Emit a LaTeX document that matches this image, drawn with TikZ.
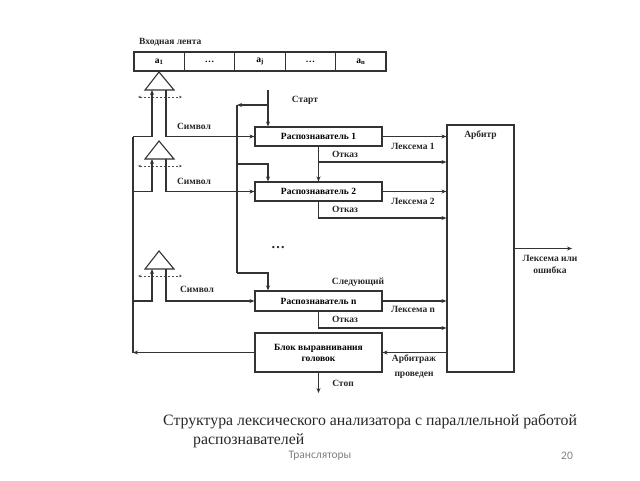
\documentclass[tikz,border=0pt]{standalone}
\usepackage{fontspec}
\setmainfont{Liberation Serif}
\newfontfamily\footfont{Carlito}
\usetikzlibrary{arrows.meta}
\begin{document}
\begin{tikzpicture}[x=1pt,y=-1pt,
  ln/.style={line width=1.1pt,draw=black!80},
  arr/.style={ln,-{Stealth[length=5pt,width=4pt]}},
  box/.style={ln,rectangle,inner sep=0pt,font=\fontsize{9.5}{11}\selectfont\bfseries,align=center},
  cell/.style={ln,rectangle,minimum width=50.4pt,minimum height=19pt,inner sep=0pt,font=\fontsize{9.5}{10}\selectfont\bfseries},
  lbl/.style={inner sep=0pt,font=\fontsize{9.5}{12}\selectfont\bfseries,align=center,text=black!85},
  dbl/.style={line width=0.6pt,draw=black!70,dash pattern=on 2pt off 2pt,{Stealth[length=3pt,width=2.5pt]}-{Stealth[length=3pt,width=2.5pt]}}
]
\useasboundingbox (0,0) rectangle (640,480);
% tape
\node[cell] (c1) at (159.2,61.5) {a\textsubscript{1}};
\node[cell] (c2) at (209.6,61.5) {\dots};
\node[cell] (c3) at (260,61.5) {a\textsubscript{j}};
\node[cell] (c4) at (310.4,61.5) {\dots};
\node[cell] (c5) at (360.8,61.5) {a\textsubscript{n}};
\node[lbl,anchor=west] (tl) at (139,42) {Входная лента};
% boxes
\node[box,minimum width=127pt,minimum height=19pt] (r1) at (318.5,136.5) {Распознаватель 1};
\node[box,minimum width=127pt,minimum height=19pt] (r2) at (318.5,191.5) {Распознаватель 2};
\node[box,minimum width=127pt,minimum height=20pt] (rn) at (318.5,301) {Распознаватель n};
\node[box,minimum width=127pt,minimum height=39pt] (blk) at (318.5,352.5) {Блок выравнивания\\головок};
\node[box,minimum width=67pt,minimum height=247pt] (arb) at (480.5,248.5) {};
\node[lbl] (arbt) at (480.5,135) {Арбитр};
% heads (triangles)
\foreach \i/\y in {1/72,2/141,3/251}{
  \draw[ln] (159,\y) -- (145,\y+18) -- (174,\y+18) -- cycle;
  \coordinate (tl\i) at (152,\y+18);
  \coordinate (tr\i) at (166,\y+18);
  \coordinate (dl\i) at (138,\y+25);
  \coordinate (dr\i) at (182,\y+25);
  \draw[dbl] (dl\i) -- (dr\i);
}
% symbol lines
\draw[arr] (tr1) |- (r1.west);
\draw[arr] (tr2) |- (r2.west);
\draw[arr] (tr3) |- (rn.west);
% head alignment lines
\coordinate (L0) at (133,136.5);
\coordinate (Lb) at (133,352.5);
\draw[ln] (L0) -- (Lb);
\draw[arr] (blk.west) -- (Lb);
\draw[arr] (L0) -| (tl1);
\draw[arr] (L0 |- r2.west) -| (tl2);
\draw[arr] (L0 |- rn.west) -| (tl3);
% start
\coordinate (st) at (268,90);
\coordinate (sb) at (268,105);
\coordinate (sl) at (237,105);
\draw[arr] (st) -- (st |- r1.north);
\draw[arr] (sb) -- (sl);
\draw[ln] (sl) -- (237,273);
\draw[arr] (237,164) -| (st |- r2.north);
\draw[arr] (237,273) -| (st |- rn.north);
% refusals
\draw[arr] (r1.south) -- (r2.north);
\draw[arr] (318.5,162) -- (318.5,162 -| arb.west);
\draw[arr] (r2.south) |- (318.5,218 -| arb.west);
\draw[arr] (rn.south) |- (318.5,328 -| arb.west);
% lexemes
\draw[arr] (r1.east) -- (r1.east -| arb.west);
\draw[arr] (r2.east) -- (r2.east -| arb.west);
\draw[arr] (rn.east) -- (rn.east -| arb.west);
\draw[arr] (blk.east -| arb.west) -- (blk.east);
\coordinate (out) at (572,248.5);
\draw[arr] (arb.east) -- (out);
\coordinate (stop) at (318.5,393);
\draw[arr] (blk.south) -- (stop);
% labels
\node[lbl] (l1) at (305,100) {Старт};
\node[lbl] (s1) at (194,126.5) {Символ};
\node[lbl] (s2) at (194,181) {Символ};
\node[lbl] (s3) at (197,289) {Символ};
\node[lbl] (x1) at (413,146) {Лексема 1};
\node[lbl] (x2) at (413,201) {Лексема 2};
\node[lbl] (x3) at (413,309.5) {Лексема n};
\node[lbl] (o1) at (345,154) {Отказ};
\node[lbl] (o2) at (345,209) {Отказ};
\node[lbl] (o3) at (345,319) {Отказ};
\node[lbl] (nx) at (358,282) {Следующий};
\node[lbl,font=\fontsize{14}{14}\selectfont\bfseries] (dots) at (278,248) {\dots};
\node[lbl] (lo) at (550,264) {Лексема или\\ошибка};
\node[lbl,font=\fontsize{9.5}{15}\selectfont\bfseries] (ap) at (414,366.5) {Арбитраж\\проведен};
\node[lbl] (sp) at (343,383) {Стоп};
% caption
\node[inner sep=0pt,anchor=west,font=\fontsize{15.8}{18}\selectfont,text=black!85] (cap1) at (163,422) {Структура лексического анализатора с параллельной работой};
\node[inner sep=0pt,anchor=west,font=\fontsize{15.8}{18}\selectfont,text=black!85] (cap2) at (193,441) {распознавателей};
\node[inner sep=0pt,font=\footfont\fontsize{11.5}{12}\selectfont,text=black!50] (ft) at (320,456) {Трансляторы};
\node[inner sep=0pt,font=\footfont\fontsize{11.5}{12}\selectfont,text=black!50] (pg) at (567,456) {20};
\end{tikzpicture}
\end{document}
